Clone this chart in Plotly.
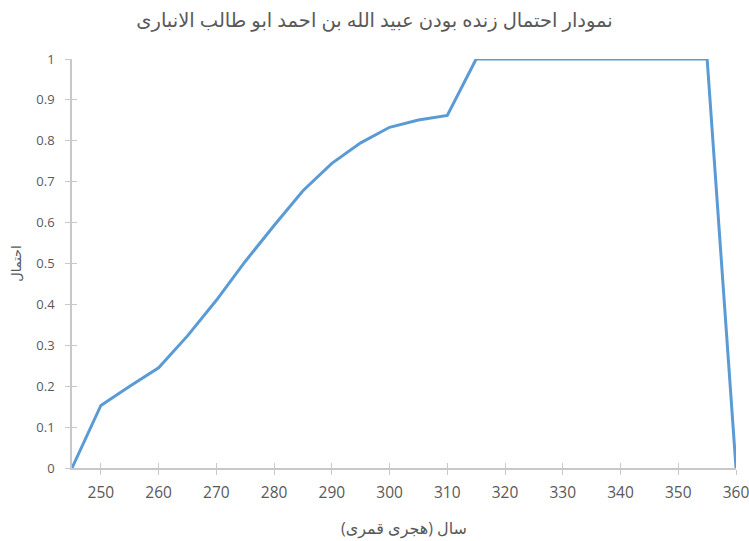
import plotly.graph_objects as go

years = [245, 250, 255, 260, 265, 270, 275, 280, 285, 290, 295, 300, 305, 310, 315, 320, 325, 330, 335, 340, 345, 350, 355, 360]
prob = [0, 0.153, 0.2, 0.245, 0.323, 0.41, 0.505, 0.593, 0.678, 0.745, 0.795, 0.833, 0.851, 0.862, 1, 1, 1, 1, 1, 1, 1, 1, 1, 0]

x_ticks = list(range(250, 361, 10))
y_ticks = [round(i * 0.1, 1) for i in range(11)]
y_tick_text = ["0" if v == 0 else ("1" if v == 1 else str(v)) for v in y_ticks]

title = "نمودار احتمال زنده بودن عبید الله بن احمد ابو طالب الانباری"
x_title = "سال (هجری قمری)"
y_title = "احتمال"

font_fam = "Open Sans, DejaVu Sans, sans-serif"
grey = "#595959"
axis_grey = "#C8C8C8"

fig = go.Figure()
fig.add_trace(go.Scatter(x=years, y=prob, mode="lines",
                         line=dict(color="#5B9BD5", width=3),
                         cliponaxis=False, showlegend=False))

fig.update_layout(
    width=749, height=541,
    margin=dict(l=72, r=13, t=59, b=73, autoexpand=False),
    paper_bgcolor="white", plot_bgcolor="white",
    title=dict(text=title, x=0.5, xanchor="center", y=0.963, yanchor="middle",
               font=dict(family=font_fam, size=19.5, color=grey)),
    font=dict(family=font_fam, color=grey),
    xaxis=dict(range=[245, 360], tickvals=x_ticks, ticks="outside", ticklen=5,
               tickcolor=axis_grey, showline=True, linecolor=axis_grey, linewidth=1.5,
               showgrid=False, zeroline=False, tickfont=dict(size=15.5, color=grey),
               ticklabelstandoff=5, automargin=False, ticklabeloverflow="allow",
               title=dict(text=x_title, font=dict(size=16, color=grey), standoff=20)),
    yaxis=dict(range=[0, 1], tickvals=y_ticks, ticktext=y_tick_text, ticks="outside", ticklen=5,
               tickcolor=axis_grey, showline=True, linecolor=axis_grey, linewidth=1.5,
               showgrid=False, zeroline=False, tickfont=dict(size=13, color=grey),
               ticklabelstandoff=8, automargin=False,
               title=dict(text=y_title, font=dict(size=13, color=grey), standoff=12)),
    xaxis2=dict(range=[245, 360], tickvals=x_ticks, ticks="inside", ticklen=5,
                tickcolor=axis_grey, showticklabels=False, showgrid=False, zeroline=False,
                overlaying="x", side="bottom", showline=False),
    yaxis2=dict(range=[0, 1], tickvals=y_ticks, ticks="inside", ticklen=5,
                tickcolor=axis_grey, showticklabels=False, showgrid=False, zeroline=False,
                overlaying="y", side="left", showline=False),
)
fig.add_trace(go.Scatter(x=[None], y=[None], xaxis="x2", yaxis="y2", showlegend=False, hoverinfo="skip"))

fig.write_html("out.html", config={"displayModeBar": False},
               post_script="document.body.style.margin='0';")
